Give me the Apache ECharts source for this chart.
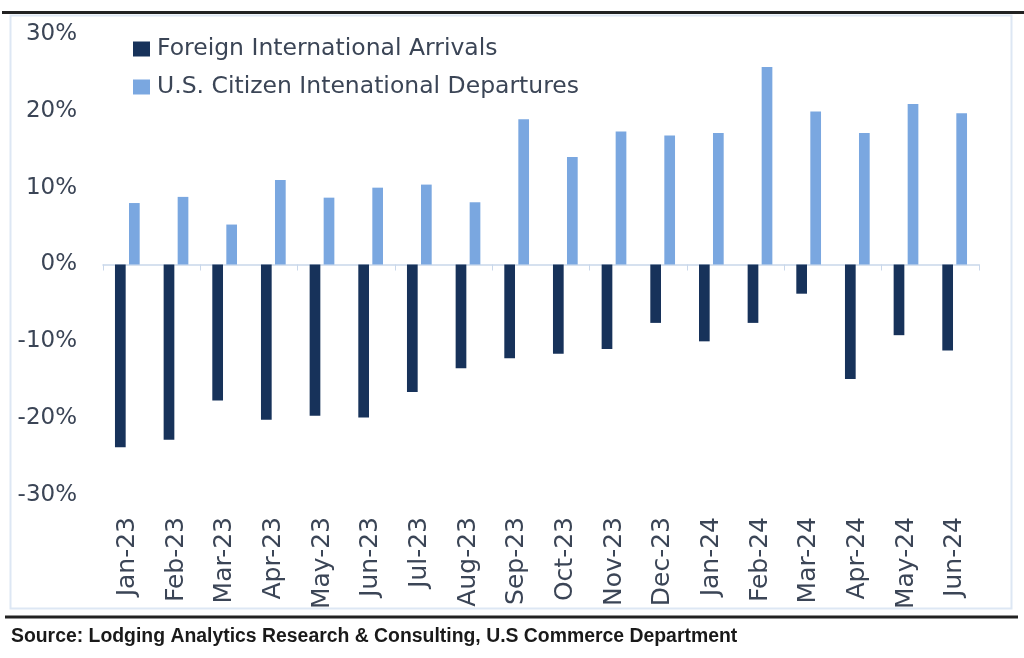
<!DOCTYPE html>
<html>
<head>
<meta charset="utf-8">
<script src="https://cdn.jsdelivr.net/npm/echarts@6/dist/echarts.min.js"></script>
<style>html,body{margin:0;padding:0;background:#fff}#c{width:1024px;height:658px}</style>
</head>
<body>
<div id="c"></div>
<script>
const categories = ['Jan-23','Feb-23','Mar-23','Apr-23','May-23','Jun-23','Jul-23','Aug-23','Sep-23','Oct-23','Nov-23','Dec-23','Jan-24','Feb-24','Mar-24','Apr-24','May-24','Jun-24'];
const foreignArrivals = [-23.8,-22.8,-17.7,-20.2,-19.7,-19.9,-16.6,-13.5,-12.2,-11.6,-11.0,-7.6,-10.0,-7.6,-3.8,-14.9,-9.2,-11.2];
const usDepartures = [8.0,8.8,5.2,11.0,8.7,10.0,10.4,8.1,18.9,14.0,17.3,16.8,17.1,25.7,19.9,17.1,20.9,19.7];
const seriesNames = ['Foreign International Arrivals','U.S. Citizen Intenational Departures'];
const sourceText = 'Source: Lodging Analytics Research & Consulting, U.S Commerce Department';

const FONT = "'DejaVu Sans',sans-serif";
const TXT = '#3b4556';
const chart = echarts.init(document.getElementById('c'), null, {renderer:'canvas'});
chart.setOption({
  animation:false,
  backgroundColor:'#fff',
  grid:{left:103, right:45, top:34, bottom:163},
  legend:{
    orient:'vertical', left:133, top:37, itemWidth:17, itemHeight:15, itemGap:14,
    icon:'rect', padding:0,
    textStyle:{fontFamily:FONT, fontSize:23.5, color:TXT, padding:[0,0,0,2]},
    data:seriesNames
  },
  xAxis:[
    {type:'category', data:categories, position:'bottom',
     axisLine:{show:false,onZero:false}, axisTick:{show:false},
     axisLabel:{rotate:90, margin:22, fontFamily:FONT, fontSize:25, color:TXT, interval:0}},
    {type:'category', data:categories, position:'top',
     axisLine:{show:true,onZero:true,lineStyle:{color:'#c9d7ea',width:1.5}},
     axisTick:{show:true,inside:true,length:6,lineStyle:{color:'#c9d7ea'}},
     axisLabel:{show:false}}
  ],
  yAxis:{type:'value', min:-30, max:30, interval:10,
    axisLine:{show:false}, axisTick:{show:false}, splitLine:{show:false},
    axisLabel:{formatter:'{value}%', fontFamily:FONT, fontSize:23, color:TXT, margin:26}},
  series:[
    {name:seriesNames[0], type:'bar', data:foreignArrivals, barWidth:10.7, barGap:'31%',
     itemStyle:{color:'#17325a'}},
    {name:seriesNames[1], type:'bar', data:usDepartures, barWidth:10.7, barGap:'31%',
     itemStyle:{color:'#7aa7e0'}}
  ],
  graphic:[
    {type:'rect', shape:{x:10.5,y:15.5,width:1001,height:593}, style:{fill:'none',stroke:'#dde7f4',lineWidth:2}, silent:true},
    {type:'line', shape:{x1:2,y1:12.5,x2:1024,y2:12.5}, style:{stroke:'#222',lineWidth:3}},
    {type:'line', shape:{x1:5,y1:617,x2:1018,y2:617}, style:{stroke:'#222',lineWidth:3}},
    {type:'text', left:11, top:627, style:{text:sourceText, font:"bold 19.4px 'Liberation Sans',sans-serif", fill:'#1a1a1a'}}
  ]
});
</script>
</body>
</html>
